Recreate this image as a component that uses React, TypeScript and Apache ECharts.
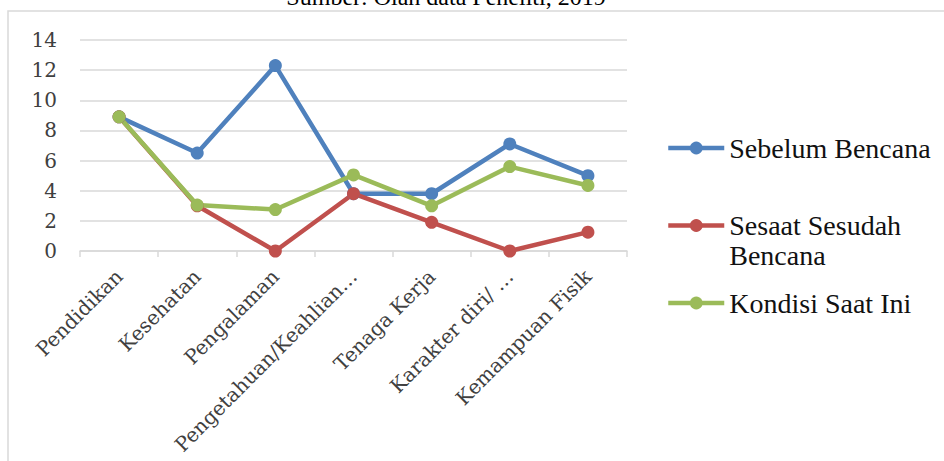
import React, { useEffect, useRef } from "react";
import * as echarts from "echarts";

const categories = [
  "Pendidikan",
  "Kesehatan",
  "Pengalaman",
  "Pengetahuan/Keahlian…",
  "Tenaga Kerja",
  "Karakter diri/ …",
  "Kemampuan Fisik",
];
const sebelumBencana = [8.9, 6.5, 12.3, 3.8, 3.8, 7.1, 5.0];
const sesaatSesudahBencana = [8.9, 3.0, 0, 3.8, 1.9, 0, 1.25];
const kondisiSaatIni = [8.9, 3.05, 2.75, 5.05, 3.0, 5.6, 4.35];
const seriesNames = ["Sebelum Bencana", "Sesaat Sesudah Bencana", "Kondisi Saat Ini"];
const legendLabels: Record<string, string> = {
  "Sebelum Bencana": "Sebelum Bencana",
  "Sesaat Sesudah Bencana": " \nSesaat Sesudah\nBencana",
  "Kondisi Saat Ini": "Kondisi Saat Ini",
};
const colors = ["#4f81bd", "#c0504d", "#9bbb59"];
const sourceNote = "Sumber: Olah data Peneliti, 2019";

export default function App() {
  const ref = useRef<HTMLDivElement>(null);
  useEffect(() => {
    if (!ref.current) return;
    const chart = echarts.init(ref.current, undefined, { renderer: "svg" });
    const axisFont = "DejaVu Serif";
    const mk = (name: string, data: number[], color: string) => ({
      name,
      type: "line",
      data,
      symbol: "circle",
      symbolSize: 13,
      color,
      lineStyle: { width: 4.5, color },
      itemStyle: { color },
    });
    chart.setOption({
      animation: false,
      backgroundColor: "#ffffff",
      grid: { left: 80, right: 317, top: 40, bottom: 210, containLabel: false },
      xAxis: {
        type: "category",
        data: categories,
        boundaryGap: true,
        axisLine: { show: true, lineStyle: { color: "#d9d9d9", width: 1.5 } },
        axisTick: { show: true, length: 6, lineStyle: { color: "#d9d9d9", width: 1.5 } },
        axisLabel: {
          interval: 0,
          rotate: 45,
          margin: 22,
          color: "#404040",
          fontFamily: axisFont,
          fontSize: 20,
        },
      },
      yAxis: {
        type: "value",
        min: 0,
        max: 14,
        interval: 2,
        axisLine: { show: false },
        axisTick: { show: false },
        splitLine: { lineStyle: { color: "#d9d9d9", width: 1.5 } },
        axisLabel: {
          margin: 23,
          color: "#404040",
          fontFamily: axisFont,
          fontSize: 20,
        },
      },
      legend: {
        orient: "vertical",
        left: 666,
        top: 133,
        padding: 0,
        itemWidth: 56,
        itemHeight: 16,
        itemGap: 17.5,
        data: seriesNames,
        lineStyle: { width: 4.5 },
        formatter: (n: string) => legendLabels[n] ?? n,
        textStyle: {
          fontFamily: "Liberation Serif",
          fontSize: 28,
          lineHeight: 30,
          color: "#111111",
        },
      },
      graphic: [
        {
          type: "rect",
          shape: { x: 8, y: 11, width: 1200, height: 1000 },
          style: { fill: "none", stroke: "#d9d9d9", lineWidth: 1.5 },
          silent: true,
          z: -10,
        },
        {
          type: "text",
          x: 446,
          y: -3,
          style: {
            text: sourceNote,
            fontFamily: "Liberation Serif",
            fontSize: 24,
            fill: "#000000",
            textAlign: "center",
            textVerticalAlign: "middle",
          },
        },
      ],
      series: [
        mk(seriesNames[0], sebelumBencana, colors[0]),
        mk(seriesNames[1], sesaatSesudahBencana, colors[1]),
        mk(seriesNames[2], kondisiSaatIni, colors[2]),
      ],
    });
    return () => chart.dispose();
  }, []);
  return (
    <div
      ref={ref}
      style={{ position: "fixed", left: 0, top: 0, width: 944, height: 461 }}
    />
  );
}
